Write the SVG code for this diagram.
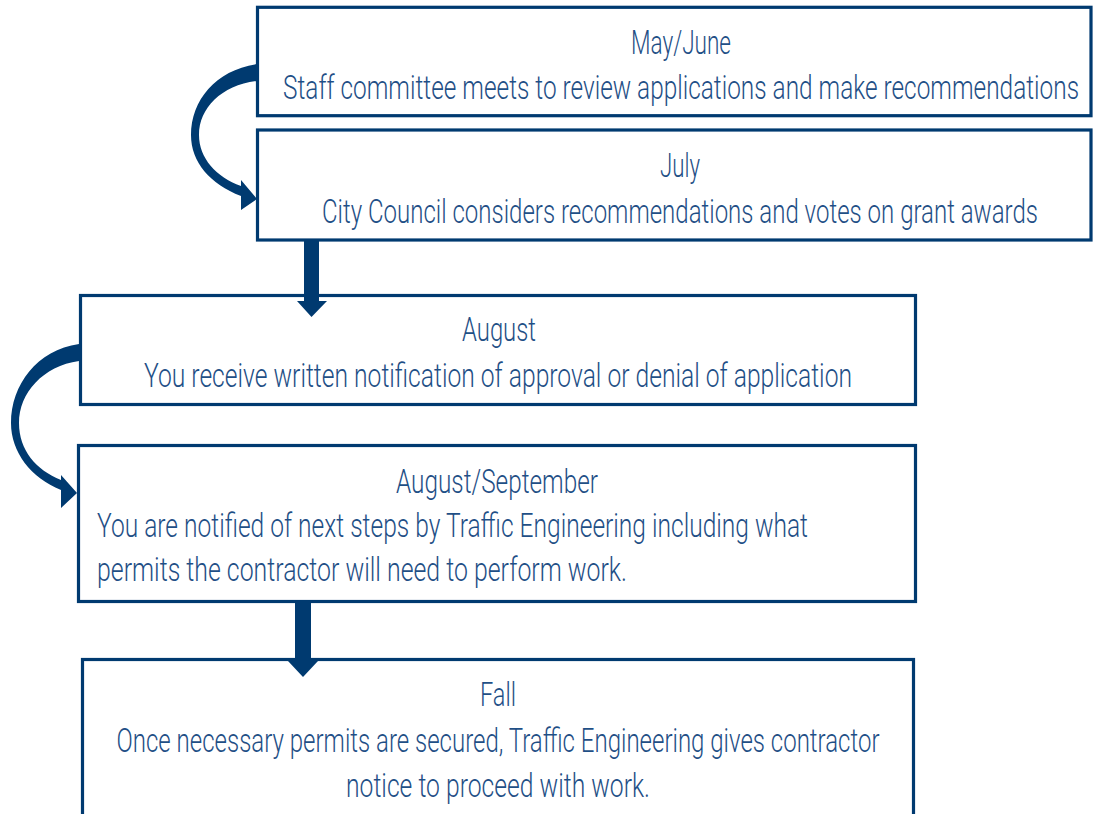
<svg xmlns="http://www.w3.org/2000/svg" width="1093" height="814" viewBox="0 0 1093 814">
<style>
.box{fill:#fff;stroke:#003a70;stroke-width:3.2}
.arr{fill:#003a70;stroke:none}
text{font-family:Roboto,"Liberation Sans",sans-serif;font-weight:300;font-size:34px;fill:#1f4f86}
.c{text-anchor:middle}
</style>
<rect width="1093" height="814" fill="#fff"/>
<g id="n1">
<rect class="box" x="257.5" y="7.3" width="833.5" height="108.4"/>
<text class="c" x="681" y="54" textLength="100" lengthAdjust="spacingAndGlyphs">May/June</text>
<text class="c" x="681" y="99" textLength="796" lengthAdjust="spacingAndGlyphs">Staff committee meets to review applications and make recommendations</text>
</g>
<g id="n2">
<rect class="box" x="257.5" y="130" width="833.5" height="110"/>
<text class="c" x="680" y="177" textLength="40" lengthAdjust="spacingAndGlyphs">July</text>
<text class="c" x="680" y="223" textLength="716" lengthAdjust="spacingAndGlyphs">City Council considers recommendations and votes on grant awards</text>
</g>
<g id="n3">
<rect class="box" x="80.5" y="295.5" width="835" height="109"/>
<text class="c" x="499" y="341" textLength="74" lengthAdjust="spacingAndGlyphs">August</text>
<text class="c" x="498" y="387" textLength="708" lengthAdjust="spacingAndGlyphs">You receive written notification of approval or denial of application</text>
</g>
<g id="n4">
<rect class="box" x="78.5" y="445.5" width="837" height="156"/>
<text class="c" x="497" y="493" textLength="202" lengthAdjust="spacingAndGlyphs">August/September</text>
<text x="97" y="537" textLength="711" lengthAdjust="spacingAndGlyphs">You are notified of next steps by Traffic Engineering including what</text>
<text x="97" y="581" textLength="530" lengthAdjust="spacingAndGlyphs">permits the contractor will need to perform work.</text>
</g>
<g id="n5">
<rect class="box" x="82.5" y="659.5" width="831" height="170"/>
<text class="c" x="498" y="706" textLength="36" lengthAdjust="spacingAndGlyphs">Fall</text>
<text class="c" x="498" y="752" textLength="763" lengthAdjust="spacingAndGlyphs">Once necessary permits are secured, Traffic Engineering gives contractor</text>
<text class="c" x="498" y="797" textLength="304" lengthAdjust="spacingAndGlyphs">notice to proceed with work.</text>
</g>
<g id="connectors">
<path class="arr" d="M257,64 C216,70 191,100 191,135 C191,162 210,184 241,196 L241,210 L257,199 L241,180 L241,186 C216,177 199,158 199,135 C199,108 222,85 257,81 Z"/>
<path class="arr" d="M79,344 C37,350 11,385 11,423 C11,452 31,478 61,490 L61,508 L77,493 L61,475 L61,480 C36,470 19,450 19,423 C19,393 43,366 79,361 Z"/>
<path class="arr" d="M304,240 H319 V301 H327 L311.5,317 L297,301 H304 Z"/>
<path class="arr" d="M295,602 H311 V661 H318 L303,677 L288,661 H295 Z"/>
</g>
</svg>
